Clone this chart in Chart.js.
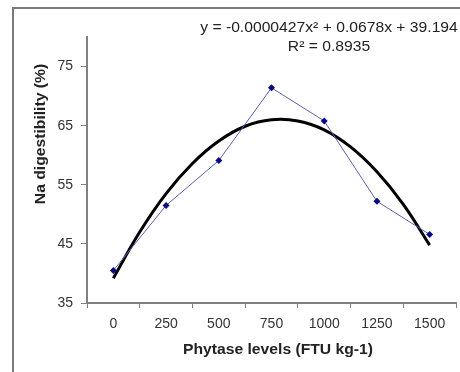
<!DOCTYPE html>
<html>
<head>
<meta charset="utf-8">
<script src="https://cdn.jsdelivr.net/npm/chart.js@4"></script>
<style>
  body { margin: 0; background: #fff; }
  #wrap { position: relative; width: 460px; height: 372px; }
</style>
</head>
<body>
<div id="wrap"><canvas id="naChart" width="460" height="372"></canvas></div>
<script>
// phytase levels (FTU kg-1)
var levels = ["0", "250", "500", "750", "1000", "1250", "1500"];
// observed Na digestibility (%)
var naDigest = [40.5, 51.5, 59.1, 71.4, 65.8, 52.2, 46.6];
// polynomial trendline, every 125 FTU
var trendX = [0, 125, 250, 375, 500, 625, 750, 875, 1000, 1125, 1250, 1375, 1500];
var trendY = [39.2, 47.0, 53.5, 58.6, 62.4, 64.9, 66.0, 65.8, 64.3, 61.4, 57.2, 51.7, 44.8];
var yTicks = [35, 45, 55, 65, 75];

var axisGray = "#808080";
var fontFam = "'Liberation Sans', Arial";

// draws text a bit wider, like the stretched excel export
function wideText(ctx, txt, x, y, sx) {
    ctx.save();
    ctx.translate(x, y);
    ctx.scale(sx, 1);
    ctx.fillText(txt, 0, 0);
    ctx.restore();
}

var textPlugin = {
    id: "texts",
    beforeDraw: function (chart) {
        var ctx = chart.ctx;
        ctx.save();
        ctx.strokeStyle = "#7a7a7a";
        ctx.lineWidth = 2;
        ctx.strokeRect(13, 8, 460, 380);
        ctx.restore();
    },
    afterDraw: function (chart) {
        var ctx = chart.ctx;
        ctx.save();
        ctx.fillStyle = "#222";
        ctx.textAlign = "center";
        ctx.textBaseline = "middle";
        ctx.font = "14px " + fontFam;
        wideText(ctx, "y = -0.0000427x\u00b2 + 0.0678x + 39.194", 329, 28, 1.12);
        wideText(ctx, "R\u00b2 = 0.8935", 329, 47, 1.12);

        ctx.font = "bold 14px " + fontFam;
        wideText(ctx, "Phytase levels (FTU kg-1)", 278, 350, 1.12);

        ctx.translate(41, 134);
        ctx.rotate(-Math.PI / 2);
        wideText(ctx, "Na digestibility (%)", 0, 0, 1.12);
        ctx.restore();
    }
};

new Chart(document.getElementById("naChart").getContext("2d"), {
    type: "line",
    data: {
        labels: levels,
        datasets: [{
            label: "Na digestibility",
            data: naDigest,
            borderColor: "#5a5fb0",
            borderWidth: 1,
            backgroundColor: "#0a0a80",
            pointStyle: "rectRot",
            pointRadius: 3.5,
            pointBorderWidth: 0,
            tension: 0,
            xAxisID: "x",
            order: 1
        }, {
            label: "Poly. trend",
            data: trendX.map(function (x, i) { return { x: x, y: trendY[i] }; }),
            borderColor: "#000",
            borderWidth: 3,
            pointRadius: 0,
            tension: 0.4,
            xAxisID: "xTrend",
            order: 2
        }]
    },
    options: {
        responsive: false,
        animation: false,
        layout: { padding: { left: 0, top: 37, right: 3, bottom: 0 } },
        plugins: {
            legend: { display: false },
            tooltip: { enabled: false }
        },
        scales: {
            x: {
                type: "category",
                offset: true,
                grid: {
                    offset: true,
                    drawOnChartArea: false,
                    drawTicks: true,
                    tickLength: 5,
                    color: axisGray
                },
                border: { color: axisGray, width: 2 },
                ticks: {
                    color: "#333",
                    font: { family: fontFam, size: 14 },
                    padding: 8,
                    maxRotation: 0
                },
                afterFit: function (scale) { scale.height = 69; }
            },
            xTrend: {
                type: "linear",
                display: false,
                min: -125,
                max: 1625
            },
            y: {
                min: 35,
                max: 80,
                grid: {
                    drawOnChartArea: false,
                    drawTicks: true,
                    tickLength: 6,
                    color: axisGray
                },
                border: { color: axisGray, width: 2 },
                ticks: {
                    stepSize: 10,
                    color: "#333",
                    font: { family: fontFam, size: 14 },
                    padding: 8
                },
                afterBuildTicks: function (scale) {
                    scale.ticks = yTicks.map(function (v) { return { value: v }; });
                },
                afterFit: function (scale) { scale.width = 87; }
            }
        }
    },
    plugins: [textPlugin]
});
</script>
</body>
</html>
